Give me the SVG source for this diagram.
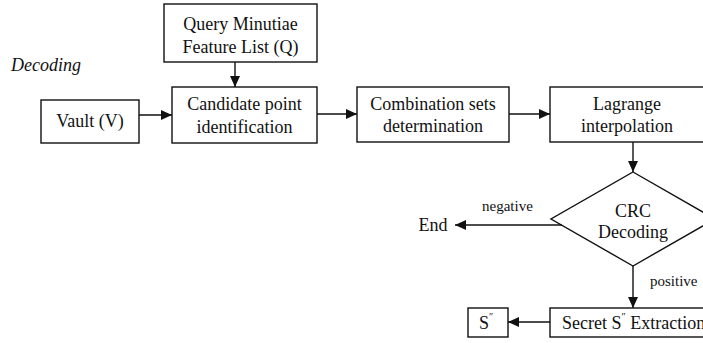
<svg xmlns="http://www.w3.org/2000/svg" width="703" height="343" viewBox="0 0 703 343">
  <style>
    .box { fill: #fff; stroke: #111; stroke-width: 1.4; }
    .t { font-family: "Liberation Serif", serif; font-size: 18px; fill: #111; text-anchor: middle; }
    .s { font-family: "Liberation Serif", serif; font-size: 15px; fill: #111; }
    .edge { stroke: #111; stroke-width: 1.4; fill: none; marker-end: url(#arr); }
  </style>
  <defs>
    <marker id="arr" markerUnits="userSpaceOnUse" markerWidth="12" markerHeight="10" refX="11" refY="5" orient="auto">
      <path d="M0,0 L11,5 L0,10 Z" fill="#111"/>
    </marker>
  </defs>
  <rect width="703" height="343" fill="#fff"/>
  <text x="11" y="71" class="t" style="text-anchor:start;font-style:italic">Decoding</text>

  <g id="query">
    <rect class="box" x="164" y="4" width="153" height="58"/>
    <text class="t" x="240.5" y="30">Query Minutiae</text>
    <text class="t" x="240.5" y="53">Feature List (Q)</text>
  </g>
  <g id="vault">
    <rect class="box" x="41" y="100" width="98" height="43"/>
    <text class="t" x="90" y="127">Vault (V)</text>
  </g>
  <g id="candidate">
    <rect class="box" x="172" y="87" width="145" height="56"/>
    <text class="t" x="244.5" y="110">Candidate point</text>
    <text class="t" x="244.5" y="133">identification</text>
  </g>
  <g id="combination">
    <rect class="box" x="357" y="87" width="152" height="55"/>
    <text class="t" x="433" y="110">Combination sets</text>
    <text class="t" x="433" y="132">determination</text>
  </g>
  <g id="lagrange">
    <rect class="box" x="550" y="87" width="160" height="55"/>
    <text class="t" x="627" y="110">Lagrange</text>
    <text class="t" x="627" y="132">interpolation</text>
  </g>
  <g id="crc">
    <polygon class="box" points="633,172 715,219 633,266 551,219"/>
    <text class="t" x="633" y="217">CRC</text>
    <text class="t" x="633" y="238">Decoding</text>
  </g>
  <g id="end">
    <text class="t" x="433" y="231">End</text>
  </g>
  <g id="secret">
    <rect class="box" x="550" y="308" width="170" height="29"/>
    <text class="t" x="562" y="329" style="text-anchor:start">Secret S<tspan font-size="10" dy="-9">″</tspan><tspan dy="9"> Extraction</tspan></text>
  </g>
  <g id="s">
    <rect class="box" x="468" y="308" width="40" height="29"/>
    <text class="t" x="486" y="329">S<tspan font-size="10" dy="-9">″</tspan></text>
  </g>

  <g id="connectors">
    <line class="edge" x1="235" y1="62" x2="235" y2="87"/>
    <line class="edge" x1="139" y1="115" x2="172" y2="115"/>
    <line class="edge" x1="317" y1="114" x2="357" y2="114"/>
    <line class="edge" x1="509" y1="114" x2="550" y2="114"/>
    <line class="edge" x1="633" y1="142" x2="633" y2="172"/>
    <line class="edge" x1="562" y1="225" x2="455" y2="225"/>
    <line class="edge" x1="633" y1="266" x2="633" y2="308"/>
    <line class="edge" x1="550" y1="322" x2="508" y2="322"/>
    <text class="s" x="482" y="211">negative</text>
    <text class="s" x="650" y="286">positive</text>
  </g>
</svg>
